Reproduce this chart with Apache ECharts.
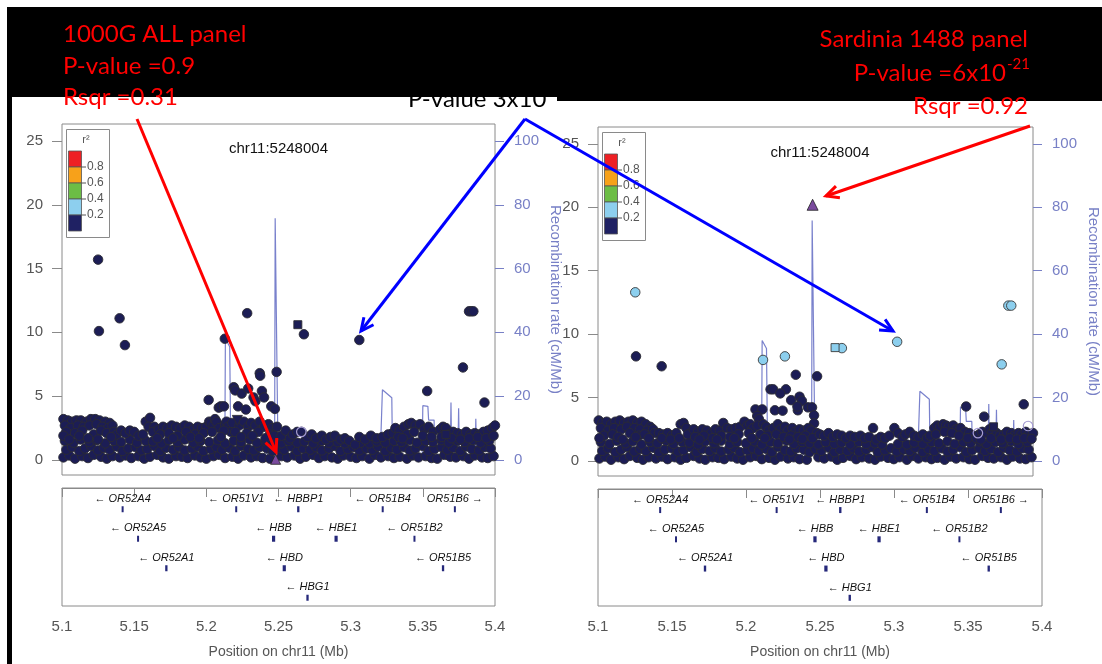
<!DOCTYPE html>
<html><head><meta charset="utf-8">
<script src="https://cdn.jsdelivr.net/npm/echarts@6/dist/echarts.min.js"></script>
<style>html,body{margin:0;padding:0;background:#fff}#c{width:1102px;height:664px}</style>
</head><body><div id="c"></div>
<script>
// ---------------- DATA ----------------
const REGION_START_MB = 5.1;                 // positions below are kb offsets from 5.1 Mb
const xTickLabels = ['5.1','5.15','5.2','5.25','5.3','5.35','5.4'];
const yTicks = [0,5,10,15,20,25];
const rateTicks = [0,20,40,60,80,100];
const r2Labels = ['0.8','0.6','0.4','0.2'];
const r2Colors = ['#ee2024','#f7a11a','#6cbd45','#8dcfee','#1f2163'];
const leadSnpName = 'chr11:5248004';

// recombination rate (cM/Mb), same genetic map in both panels: [kb, rate]
const recombRate = [[0,0.5],[20,0.8],[40,0.6],[60,1.0],[80,0.7],[100,1.2],[112.8,1.5],[113.2,38],[116.2,35.5],[116.8,9.5],[117.5,2],[130,1.8],[147.3,2],[147.7,75.8],[148.9,75.5],[149.4,12],[150,2],[170,1.5],[190,1.0],[210,1.2],[220.5,1.5],[222,22],[228.5,19.5],[229,1.5],[240,1],[249.5,1.5],[250,17],[253.5,16.8],[254,12.5],[257.8,12.5],[258.2,1.5],[269,1.5],[269.5,18],[270,1.5],[274.3,1.5],[274.8,16.2],[275.3,1.5],[286.2,1.5],[286.7,12.9],[287.2,1.5],[300,1.5]];

// dense low band of SNPs (-log10 p < 1.7), visually identical in both panels: [kb, -log10 p]
const lowBandSnps = [[1,0.2],[5,0.35],[9,0.1],[14,0.3],[18,0.15],[22,0.4],[27,0.25],[31,0.1],[35,0.3],[40,0.2],[44,0.35],[48,0.15],[53,0.3],[57,0.1],[61,0.25],[66,0.4],[70,0.2],[74,0.1],[79,0.3],[83,0.25],[87,0.15],[92,0.35],[96,0.2],[100,0.1],[105,0.3],[109,0.4],[113,0.15],[118,0.25],[122,0.1],[126,0.35],[131,0.2],[135,0.3],[139,0.15],[144,0.1],[152,0.3],[156,0.2],[161,0.35],[165,0.1],[169,0.25],[174,0.4],[178,0.15],[182,0.3],[187,0.2],[191,0.1],[195,0.35],[200,0.25],[204,0.15],[208,0.3],[213,0.1],[217,0.4],[221,0.2],[226,0.3],[230,0.15],[234,0.25],[239,0.1],[243,0.35],[247,0.2],[252,0.3],[256,0.15],[260,0.1],[265,0.4],[269,0.25],[273,0.2],[278,0.3],[282,0.1],[286,0.35],[291,0.2],[295,0.15],[299,0.3],
[3,0.8],[7,1.0],[12,0.7],[16,0.9],[20,1.1],[25,0.75],[29,0.95],[33,0.8],[38,1.05],[42,0.7],[46,0.9],[51,1.0],[55,0.75],[59,0.85],[64,1.1],[68,0.7],[72,0.95],[77,0.8],[81,1.0],[85,0.75],[90,0.9],[94,1.05],[98,0.7],[103,0.85],[107,1.0],[111,0.8],[116,0.95],[120,0.7],[124,1.1],[129,0.85],[133,0.75],[137,1.0],[142,0.9],[146,0.7],[150,0.95],[154,0.8],[159,1.05],[163,0.7],[167,0.9],[172,0.8],[176,1.0],[180,0.75],[185,0.9],[189,1.1],[193,0.7],[198,0.85],[202,1.0],[206,0.75],[211,0.9],[215,0.8],[219,1.05],[224,0.7],[228,0.95],[232,0.8],[237,1.0],[241,0.75],[245,0.9],[250,1.1],[254,0.7],[258,0.85],[263,1.0],[267,0.8],[271,0.95],[276,0.7],[280,1.05],[284,0.85],[289,0.75],[293,1.0],[297,0.9],
[2,1.5],[8,1.35],[13,1.6],[19,1.4],[24,1.55],[30,1.3],[36,1.5],[41,1.4],[47,1.6],[52,1.35],[58,1.5],[63,1.45],[69,1.3],[74,1.55],[80,1.4],[85,1.6],[91,1.35],[96,1.5],[102,1.4],[108,1.55],[113,1.3],[119,1.5],[124,1.4],[130,1.6],[135,1.35],[141,1.5],[146,1.4],[152,1.3],[157,1.5],[163,1.35],[168,1.45],[174,1.3],[180,1.5],[185,1.35],[191,1.4],[196,1.3],[207,1.35],[213,1.3],[218,1.45],[224,1.35],[230,1.5],[235,1.4],[241,1.55],[246,1.35],[252,1.5],[257,1.4],[263,1.55],[268,1.35],[274,1.5],[279,1.4],[285,1.55],[290,1.35],[296,1.5]];

// ---- 1000G ALL panel (left) ----
const leftNavySnps = [[1,3.2],[4,3.1],[7,3.0],[10,3.1],[13,3.1],[17,3.0],[20,3.2],[23,3.2],[26,3.1],[30,3.0],[33,2.9],[2,2.7],[6,2.5],[11,2.7],[15,2.6],[19,2.7],[24,2.8],[28,2.6],[32,2.5],[35,2.7],[3,2.2],[9,2.1],[14,2.3],[22,2.0],[27,2.3],[31,2.1],[36,2.2],[38,2.0],[1,1.9],[5,1.6],[12,1.9],[18,1.7],[25,1.6],[34,1.8],
[41,2.3],[44,2.1],[47,2.3],[50,2.2],[53,1.9],[56,2.0],[58,3.0],[61,3.3],[60,2.6],[64,2.6],[63,2.2],
[67,2.4],[70,2.6],[73,2.5],[76,2.7],[79,2.6],[82,2.5],[85,2.7],[88,2.6],[91,2.4],[94,2.6],[97,2.5],[100,2.6],[68,2.0],[74,2.1],[80,1.9],[86,2.2],[92,2.0],[98,2.1],[66,1.7],[77,1.7],[89,1.8],[95,1.7],
[102,3.0],[103,2.9],[105,2.7],[106,3.2],[107,3.0],[109,2.5],[113,2.8],[114,3.0],[115,2.6],[117,2.2],[118,2.9],[123,2.7],[126,3.0],[129,2.6],[131,2.9],[134,2.7],[137,3.0],[140,2.6],[143,2.8],[146,2.5],[149,2.6],[104,2.2],[112,2.3],[120,2.2],[128,2.1],[136,2.2],[144,2.0],[110,1.8],[124,1.8],[132,1.9],[141,1.7],[147,1.9],
[101.6,4.7],[108.6,4.1],[110,4.2],[112.2,4.2],[119,5.7],[120,5.45],[124.5,5.2],[129,5.6],[132.7,4.9],[134,4.6],[137,6.8],[137.3,6.6],[138.5,5.4],[140,4.9],[122,4.2],[127.4,3.95],[145,4.2],[147.5,4.0],[148.7,6.9],
[152,1.9],[155,2.3],[158,1.7],[160,2.0],[163,2.2],[166,2.2],[170,1.8],[173,2.0],[176,1.7],[180,1.9],[183,1.6],[186,1.8],[189,1.9],[193,1.6],[196,1.7],[199,1.5],
[203,1.2],[206,1.8],[210,1.6],[214,1.9],[218,1.7],[222,1.8],[226,2.0],[229,2.1],
[231,2.5],[234,2.3],[237,2.6],[240,2.8],[242,2.9],[245,2.7],[248,2.8],[251,2.4],[254,2.6],[257,2.2],[233,1.8],[239,2.0],[244,2.2],[250,1.9],[256,1.8],[236,1.7],
[262,2.4],[264,2.6],[266,2.5],[268,2.0],[271,2.2],[274,2.1],[277,2.0],[280,2.2],[283,2.0],[286,2.1],[289,2.0],[292,2.2],[295,2.3],[298,2.5],[300,2.7],[263,1.8],[270,1.7],[276,1.6],[282,1.7],[288,1.8],[294,1.7],[299,1.9],
[25,15.7],[25.6,10.1],[39.9,11.1],[43.6,9.0],[112.8,9.5],[128.3,11.5],[167.6,9.85],[206,9.4],[253,5.4],[277.8,7.25],[282,11.65],[283.5,11.65],[285,11.65],[292.7,4.5]];
const leftNavySquares = [[163.4,10.6],[266,2.0]];
const leftNavyTriDown = [[121.5,3.1]];
const leftHollow = [[165.8,2.2]];
const leftLead = [[148.0,0.05]];

// ---- Sardinia 1488 panel (right) ----
const rightNavySnps = [[0.5,3.2],[3,3.0],[6,3.1],[9,2.9],[12,3.1],[15,3.2],[18,3.0],[21,3.1],[24,3.2],[27,3.0],[30,3.1],[33,2.9],[36,2.7],[2,2.6],[7,2.4],[11,2.6],[16,2.5],[20,2.7],[25,2.6],[29,2.5],[34,2.4],[38,2.5],[4,2.0],[10,2.1],[14,1.9],[22,2.2],[28,2.0],[32,2.1],[39,2.2],[1,1.8],[17,1.7],[26,1.9],[35,1.8],
[42,2.2],[45,2.1],[48,2.2],[51,2.0],[54,2.2],[57,2.9],[59,3.0],[61,2.6],[44,1.8],[50,1.7],[56,1.8],[62,2.1],
[66,2.5],[69,2.3],[72,2.5],[75,2.4],[78,2.2],[81,2.5],[84,2.4],[86.4,3.0],[89,2.6],[92,2.5],[95,2.6],[98,2.7],[101,3.1],[67,1.9],[73,2.0],[79,1.8],[85,2.0],[91,1.9],[97,2.1],[70,1.7],[82,1.7],[94,1.8],
[103,2.8],[105,2.9],[107,2.6],[108.6,4.07],[113.3,4.07],[109.8,3.55],[111,3.3],[110,2.8],[114,2.9],[119,5.65],[120.8,5.65],[129.6,5.65],[125.7,5.33],[122,4.0],[127.3,3.97],[133.2,4.8],[139,5.07],[140.6,4.75],[137.8,4.0],[137.5,4.3],[144.8,4.23],[147.6,4.23],[149,3.6],[149,2.97],[116,2.7],[118,2.4],[121,2.6],[124,2.9],[126,2.5],[129,2.7],[131,2.4],[134,2.6],[136,2.3],[139,2.5],[142,2.4],[145,2.6],[147,2.4],[151,2.2],[104,2.2],[112,2.1],[117,2.0],[123,2.1],[128,1.9],[133,2.0],[138,1.9],[143,2.0],[148,1.8],[106,1.8],[115,1.8],[132,1.7],[141,1.75],
[153,2.1],[156,2.0],[159,2.2],[162,1.9],[165,2.1],[168,2.0],[171,1.8],[174,2.0],[177,1.9],[181,2.0],[184,1.8],[187,1.9],[189.7,2.6],[192,1.7],[195,1.9],[198,1.8],
[201,2.0],[204.4,2.6],[207,2.2],[210,1.9],[212,2.1],[215,2.3],[218,2.0],[221,1.9],[224,2.1],[227,1.8],[229,2.0],
[232,2.6],[234,2.8],[236,2.7],[238,2.9],[240,2.8],[242,2.7],[245,2.8],[247,2.5],[250,2.6],[253,2.3],[256,2.2],[259,2.0],[233,2.1],[239,2.3],[244,2.2],[249,2.0],[255,1.8],[261,1.8],
[263,2.1],[265,2.3],[266.3,3.5],[268,2.2],[270,2.5],[272,2.3],[275,2.2],[277,2.0],[280,2.1],[282,2.3],[285,2.2],[287,2.0],[290,2.2],[292,2.1],[295,2.3],[297,2.1],[300,2.2],[264,1.7],[271,1.8],[278,1.7],[284,1.8],[289,1.7],[294,1.8],[299,1.75],
[26.2,8.25],[43.9,7.47],[136.4,6.8],[151.1,6.68],[253.9,4.3],[293.6,4.47]];
const rightNavySquares = [[272.8,2.7]];
const rightLightBlueSnps = [[25.7,13.3],[113.8,7.97],[128.9,8.25],[168.2,8.9],[206.3,9.4],[278.4,7.62],[283,12.25],[285,12.25]];
const rightLightBlueSquares = [[163.5,8.94]];
const rightHollow = [[262,2.2],[296.6,2.76]];
const rightLead = [[148.0,20.2]];

// genes: centre (kb offset), length (kb), row, strand
const geneNames    = ['OR52A4','OR51V1','HBBP1','OR51B4','OR51B6','OR52A5','HBB','HBE1','OR51B2','OR52A1','HBD','OR51B5','HBG1'];
const geneCenterKb = [42,120.7,163.7,222.2,272.2,52.7,146.6,189.9,244.2,72.3,154,264,170.1];
const geneLengthKb = [1,1,1.6,1,1,1,2.2,2.2,1,1.6,2.2,1.6,1.6];
const geneRow      = [0,0,0,0,0,1,1,1,1,2,2,2,3];
const geneStrand   = ['-','-','-','-','+','-','-','-','-','-','-','-','-'];

// ---------------- CHART ----------------
const toMb = arr => arr.map(([kb, v]) => [REGION_START_MB + kb / 1000, v]);
const xTickValues = xTickLabels.map(Number);
const AX = '#8a8a8a', LAB = '#555', RATE = '#7880c6';
const FONT = '"Liberation Sans", Arial, sans-serif';
const P = [
  {main:{left:62, top:124, width:433, height:351}, gene:{left:62, top:488, width:433, height:118}},
  {main:{left:598, top:127, width:444, height:349}, gene:{left:598, top:489, width:444, height:117}}
];
const grids = [], xAxes = [], yAxes = [], series = [];
P.forEach((p, k) => {
  grids.push(Object.assign({show:true, borderColor:AX, borderWidth:1, backgroundColor:'transparent'}, p.main));
  grids.push(Object.assign({show:true, borderColor:AX, borderWidth:1, backgroundColor:'transparent'}, p.gene));
  const gm = 2*k, gg = 2*k+1;
  xAxes.push({gridIndex:gm, type:'value', min:5.1, max:5.4, show:false});
  xAxes.push({gridIndex:gg, type:'value', min:5.1, max:5.4, interval:0.05,
    axisLine:{show:true, lineStyle:{color:AX}}, splitLine:{show:false},
    axisTick:{show:true, length:9, customValues:xTickValues, lineStyle:{color:AX}},
    axisLabel:{customValues:xTickValues, formatter:v => xTickLabels[xTickValues.findIndex(t => Math.abs(t - v) < 1e-6)] || '', color:LAB, fontSize:15, fontFamily:FONT, margin:13},
    name:'Position on chr11 (Mb)', nameLocation:'middle', nameGap:39, nameTextStyle:{color:LAB, fontSize:14, fontFamily:FONT}});
  yAxes.push({gridIndex:gm, type:'value', min:-1.18, max:26.33, position:'left',
    axisLine:{show:false}, splitLine:{show:false},
    axisTick:{show:true, length:10, customValues:yTicks, lineStyle:{color:AX}},
    axisLabel:{customValues:yTicks, color:LAB, fontSize:15, fontFamily:FONT, margin:19}});
  yAxes.push({gridIndex:gm, type:'value', min:-4.72, max:105.32, position:'right',
    axisLine:{show:false}, splitLine:{show:false},
    axisTick:{show:true, length:9, customValues:rateTicks, lineStyle:{color:RATE}},
    axisLabel:{customValues:rateTicks, color:RATE, fontSize:15, fontFamily:FONT, margin:19},
    name:'Recombination rate (cM/Mb)', nameLocation:'middle', nameRotate:-90, nameGap:53,
    nameTextStyle:{color:RATE, fontSize:15, fontFamily:FONT}});
  yAxes.push({gridIndex:gg, type:'value', min:0, max:4, inverse:true, show:false});
});
// yAxis indices: panel k -> main left 3k, rate 3k+1, gene 3k+2 ; xAxis: main 2k, gene 2k+1
function pts(name, data, k, style, extra) {
  return Object.assign({type:'scatter', name, xAxisIndex:2*k, yAxisIndex:3*k, data:toMb(data),
    symbol:'circle', symbolSize:9.5, itemStyle:Object.assign({opacity:1}, style), z:3, silent:true}, extra || {});
}
const navyStyle = {color:'#1c1d55', borderColor:'#2b2b33', borderWidth:0.9};
const lbStyle = {color:'#8ccfee', borderColor:'#3a3a3a', borderWidth:0.9};
const hollowStyle = {color:'rgba(255,255,255,0)', borderColor:'#a49bd2', borderWidth:1.2};
const leadStyle = {color:'#7a4a9e', borderColor:'#222', borderWidth:0.8};
function recomb(k) {
  return {type:'line', xAxisIndex:2*k, yAxisIndex:3*k+1, data:toMb(recombRate), symbol:'none',
    lineStyle:{color:'#6a73c6', width:1.2, opacity:0.9}, z:2, silent:true};
}
function genes(k) {
  return {type:'custom', xAxisIndex:2*k+1, yAxisIndex:3*k+2, clip:false, silent:true, z:3,
    data:geneNames.map((n, i) => [REGION_START_MB + geneCenterKb[i] / 1000, geneRow[i], geneLengthKb[i], i]),
    renderItem(params, api) {
      const i = api.value(3);
      const c = api.coord([api.value(0), api.value(1) + 0.37]);
      const m = api.coord([api.value(0), api.value(1) + 0.72]);
      const hw = Math.max(1, api.size([api.value(2) / 1000, 0])[0] / 2);
      const label = geneStrand[i] === '+' ? geneNames[i] + ' \u2192' : '\u2190 ' + geneNames[i];
      return {type:'group', children:[
        {type:'text', style:{x:c[0], y:c[1], text:label, align:'center', verticalAlign:'middle',
          textAlign:'center', textVerticalAlign:'middle', font:'italic 11px ' + FONT, fill:'#111'}},
        {type:'rect', shape:{x:m[0] - hw, y:m[1] - 3, width:hw * 2, height:6}, style:{fill:'#25287a'}}
      ]};
    }};
}
series.push(recomb(0), pts('low', lowBandSnps, 0, navyStyle), pts('navy', leftNavySnps, 0, navyStyle),
  pts('sq', leftNavySquares, 0, navyStyle, {symbol:'rect', symbolSize:8}),
  pts('tri', leftNavyTriDown, 0, navyStyle, {symbol:'triangle', symbolRotate:180, symbolSize:10}),
  pts('hollow', leftHollow, 0, hollowStyle),
  pts('lead', leftLead, 0, leadStyle, {symbol:'triangle', symbolSize:10, z:4}), genes(0));
series.push(recomb(1), pts('low', lowBandSnps, 1, navyStyle), pts('navy', rightNavySnps, 1, navyStyle),
  pts('sq', rightNavySquares, 1, navyStyle, {symbol:'rect', symbolSize:8}),
  pts('hollow', rightHollow, 1, hollowStyle),
  pts('lb', rightLightBlueSnps, 1, lbStyle, {z:4}),
  pts('lbsq', rightLightBlueSquares, 1, lbStyle, {symbol:'rect', symbolSize:8, z:4}),
  pts('lead', rightLead, 1, leadStyle, {symbol:'triangle', symbolSize:11, z:5}), genes(1));

// ---------------- OVERLAYS ----------------
function txt(x, y, text, o) {
  return {type:'text', z:200, silent:true, style:Object.assign({x, y, text, fill:'#111', font:'15px ' + FONT,
    textAlign:'left', textVerticalAlign:'middle', align:'left', verticalAlign:'middle'}, o || {})};
}
function legend(gx, gy) {
  const els = [{type:'rect', z:150, shape:{x:gx + 4.5, y:gy + 5.5, width:43, height:108}, style:{fill:'#fff', stroke:AX, lineWidth:1}}];
  els.push(txt(gx + 24, gy + 16, 'r\u00b2', {fill:LAB, font:'11px ' + FONT, textAlign:'center', align:'center'}));
  r2Colors.forEach((c, i) => els.push({type:'rect', z:151, shape:{x:gx + 6.5, y:gy + 27 + 16 * i, width:13, height:16}, style:{fill:c, stroke:'#555', lineWidth:0.8}}));
  r2Labels.forEach((l, i) => {
    const y = gy + 27 + 16 * (i + 1);
    els.push({type:'line', z:151, shape:{x1:gx + 19.5, y1:y, x2:gx + 24, y2:y}, style:{stroke:LAB, lineWidth:1}});
    els.push(txt(gx + 25, y, l, {fill:LAB, font:'12px ' + FONT}));
  });
  return els;
}
function arrow(x1, y1, x2, y2, color) {
  const a = Math.atan2(y2 - y1, x2 - x1), L = 14, s = 0.45;
  return [
    {type:'line', z:300, shape:{x1, y1, x2, y2}, style:{stroke:color, lineWidth:3}},
    {type:'polyline', z:300, shape:{points:[[x2 - L * Math.cos(a - s), y2 - L * Math.sin(a - s)], [x2, y2], [x2 - L * Math.cos(a + s), y2 - L * Math.sin(a + s)]]},
      style:{stroke:color, lineWidth:3, fill:null, lineJoin:'miter'}}
  ];
}
const RED = '#ff0000', CAL = 'Lato, "Open Sans", sans-serif';
const graphic = [
  txt(P[0].main.left + P[0].main.width / 2, 149, leadSnpName, {textAlign:'center', align:'center', font:'15px ' + FONT}),
  txt(P[1].main.left + P[1].main.width / 2, 153, leadSnpName, {textAlign:'center', align:'center', font:'15px ' + FONT}),
  ...legend(P[0].main.left, P[0].main.top),
  ...legend(P[1].main.left, P[1].main.top),
  // partially hidden label behind the black band
  Object.assign(txt(408, 99, 'P-value 3x10', {fill:'#000', font:'24px ' + CAL}), {z:250}),
  Object.assign(txt(557, 92, '-', {fill:'#000', font:'15px ' + CAL}), {z:250}),
  {type:'polygon', z:260, silent:true, shape:{points:[[7,7],[1102,7],[1102,101],[557,101],[557,97],[12,97],[12,664],[7,664]]}, style:{fill:'#000'}},
  Object.assign(txt(63, 34, '1000G ALL panel', {fill:RED, font:'24px ' + CAL}), {z:270}),
  Object.assign(txt(63, 66, 'P-value =0.9', {fill:RED, font:'24px ' + CAL}), {z:270}),
  Object.assign(txt(63, 97, 'Rsqr =0.31', {fill:RED, font:'24px ' + CAL}), {z:270}),
  Object.assign(txt(1028, 39, 'Sardinia 1488 panel', {fill:RED, font:'24px ' + CAL, textAlign:'right', align:'right'}), {z:270}),
  Object.assign(txt(1006, 73, 'P-value =6x10', {fill:RED, font:'24px ' + CAL, textAlign:'right', align:'right'}), {z:270}),
  Object.assign(txt(1007, 64, '-21', {fill:RED, font:'15px ' + CAL}), {z:270}),
  Object.assign(txt(1028, 106, 'Rsqr =0.92', {fill:RED, font:'24px ' + CAL, textAlign:'right', align:'right'}), {z:270}),
  ...arrow(137, 119, 276, 452, RED),
  ...arrow(525, 119, 361, 331, '#0000ff'),
  ...arrow(525, 119, 893, 331, '#0000ff'),
  ...arrow(1030, 126, 826, 196, RED)
];

const chart = echarts.init(document.getElementById('c'), null, {renderer:'canvas'});
chart.setOption({animation:false, backgroundColor:'#fff', grid:grids, xAxis:xAxes, yAxis:yAxes, series, graphic});
</script></body></html>
